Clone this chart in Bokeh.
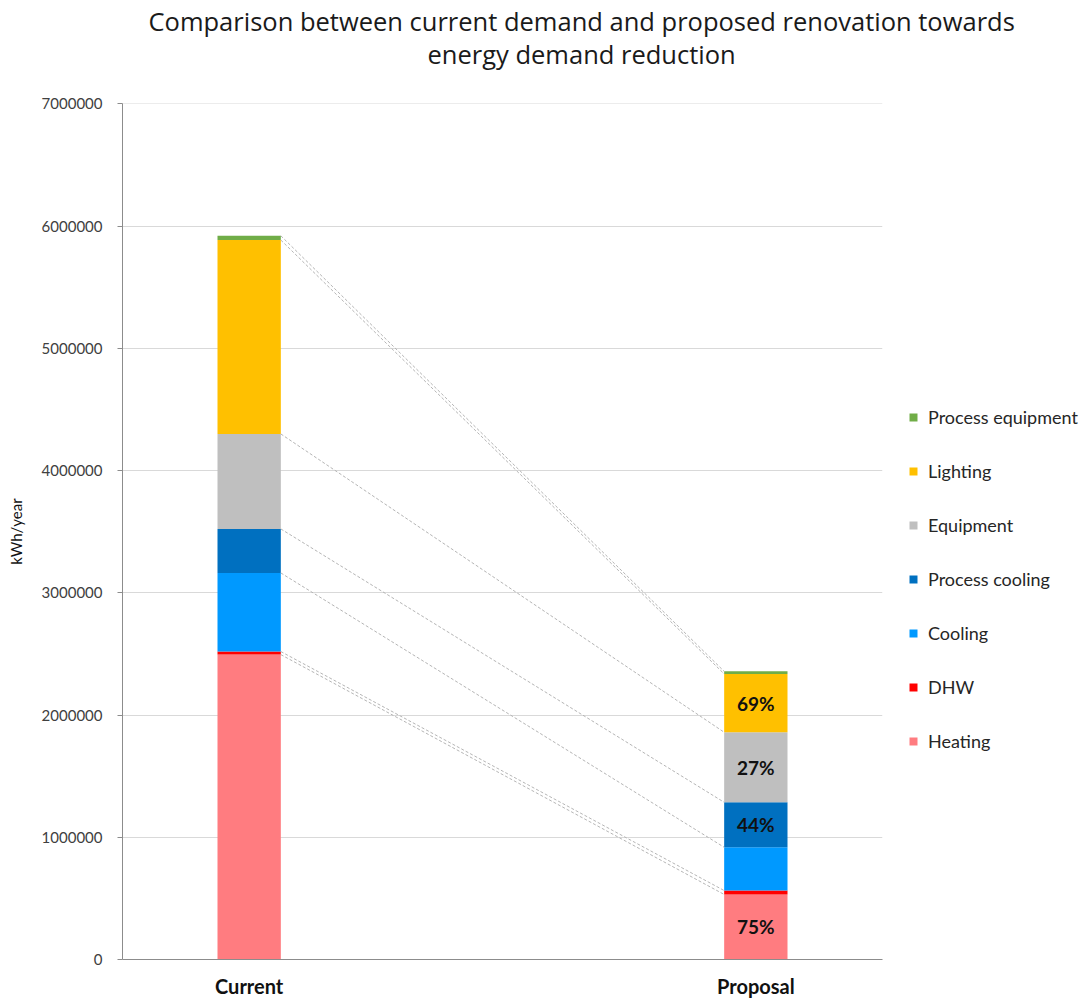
from bokeh.plotting import figure
from bokeh.models import (ColumnDataSource, Range1d, FixedTicker, BasicTickFormatter,
                          Legend, LegendItem, Title)
from bokeh.embed import file_html
from bokeh.resources import INLINE
from bokeh.core.properties import value

# ---------------- data ----------------
categories = ["Current", "Proposal"]
series = ["Heating", "DHW", "Cooling", "Process cooling", "Equipment", "Lighting", "Process equipment"]
colors = ["#FF7C80", "#FF0000", "#0099FF", "#0070C0", "#BFBFBF", "#FFC000", "#70AD47"]

heating = [2494000, 532000]
dhw = [25000, 32000]
cooling = [643000, 354000]
process_cooling = [360000, 368000]
equipment = [777000, 573000]
lighting = [1586000, 477000]
process_equipment = [35000, 21000]

reduction_labels = {"Heating": "75%", "Process cooling": "44%", "Equipment": "27%", "Lighting": "69%"}
y_ticks = [0, 1000000, 2000000, 3000000, 4000000, 5000000, 6000000, 7000000]

title_lines = ["Comparison between current demand and proposed renovation towards",
               "energy demand reduction"]
y_label = "kWh/year"

FONT = "Lato"
TITLE_FONT = "Open Sans"

# ---------------- layout ----------------
xpos = [1.0, 5.0]
bar_w = 0.5
values = [heating, dhw, cooling, process_cooling, equipment, lighting, process_equipment]

data = {"x": xpos}
for s, v in zip(series, values):
    data[s] = v
source = ColumnDataSource(data)

p = figure(frame_width=760, frame_height=856, x_range=Range1d(0, 6),
           y_range=Range1d(0, y_ticks[-1] * 1.0003),
           output_backend="svg", toolbar_location=None,
           min_border_left=122, min_border_top=103, min_border_bottom=37, min_border_right=196)
p.outline_line_color = None
p.background_fill_color = "white"
p.border_fill_color = "white"

renderers = p.vbar_stack(series, x="x", width=bar_w, color=colors, line_color=None, source=source)

# connector (series) lines between stacked tops
cum = [0, 0]
for s, v in zip(series, values):
    cum = [cum[0] + v[0], cum[1] + v[1]]
    p.line([xpos[0] + bar_w / 2, xpos[1] - bar_w / 2], [cum[0], cum[1]],
           line_color="#B5B5B5", line_dash="3 2", line_width=1)

# percentage labels in proposal bar
base = 0
lx, ly, lt = [], [], []
for s, v in zip(series, values):
    if s in reduction_labels:
        lx.append(xpos[1])
        ly.append(base + v[1] / 2)
        lt.append(reduction_labels[s])
    base += v[1]
p.text(x=lx, y=ly, text=lt, text_align="center", text_baseline="middle",
       text_font=value(FONT), text_font_style="bold", text_font_size="19px", text_color="#111111")

# axes
p.xaxis.ticker = FixedTicker(ticks=xpos)
p.xaxis.major_label_overrides = {int(xpos[i]): categories[i] for i in range(2)}
p.xaxis.major_tick_line_color = None
p.xaxis.minor_tick_line_color = None
p.xaxis.axis_line_color = "#8C8C8C"
p.xaxis.major_label_text_font = FONT
p.xaxis.major_label_text_font_style = "bold"
p.xaxis.major_label_text_font_size = "20px"
p.xaxis.major_label_text_color = "#111111"
p.xaxis.major_label_standoff = 8

p.yaxis.ticker = FixedTicker(ticks=y_ticks)
p.yaxis.formatter = BasicTickFormatter(use_scientific=False)
p.yaxis.axis_line_color = "#8C8C8C"
p.yaxis.major_tick_line_color = "#8C8C8C"
p.yaxis.major_tick_out = 5
p.yaxis.major_tick_in = 0
p.yaxis.minor_tick_line_color = None
p.yaxis.major_label_text_font = FONT
p.yaxis.major_label_text_font_size = "15px"
p.yaxis.major_label_text_color = "#404040"
p.yaxis.major_label_standoff = 15
p.yaxis.axis_label = y_label
p.yaxis.axis_label_text_font = FONT
p.yaxis.axis_label_text_font_style = "normal"
p.yaxis.axis_label_text_font_size = "15px"
p.yaxis.axis_label_text_color = "#111111"
p.yaxis.axis_label_standoff = 14

p.xgrid.grid_line_color = None
p.ygrid.ticker = FixedTicker(ticks=y_ticks)
p.ygrid.grid_line_color = "#D9D9D9"

# legend
items = [LegendItem(label=s, renderers=[r]) for s, r in zip(series, renderers)][::-1]
legend = Legend(items=items, location=(26, 207), padding=5, margin=0,
                glyph_width=10, glyph_height=10, label_height=20, spacing=32,
                label_standoff=10, label_text_font=FONT, label_text_font_size="18px",
                label_text_color="#262626", border_line_color=None, background_fill_alpha=0)
p.add_layout(legend, "right")

# title: spacer nearest the plot, then the two lines
title_style = dict(text_font=TITLE_FONT, text_font_size="25.5px", text_font_style="normal",
                   text_color="#1A1A1A")
p.add_layout(Title(text=" ", align="left", standoff=-2, **title_style), "above")
p.add_layout(Title(text=title_lines[1], align="left", offset=305, standoff=-3, **title_style), "above")
p.add_layout(Title(text=title_lines[0], align="left", offset=26, standoff=-3, **title_style), "above")

open("out.html", "w").write(file_html(p, INLINE))
